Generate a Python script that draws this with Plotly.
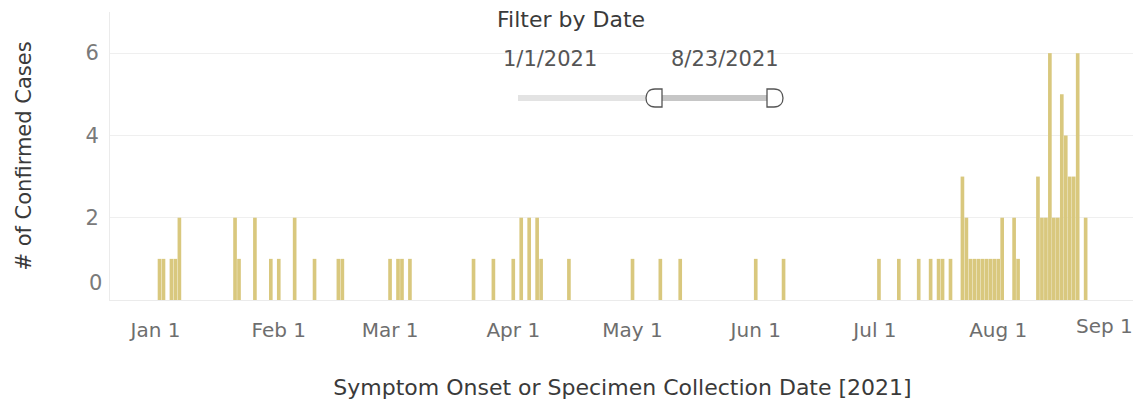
import plotly.graph_objects as go

# ---- data ----
dates = [
    "2021-01-02", "2021-01-03", "2021-01-05", "2021-01-06", "2021-01-07",
    "2021-01-21", "2021-01-22", "2021-01-26", "2021-01-30", "2021-02-01",
    "2021-02-05", "2021-02-10", "2021-02-16", "2021-02-17",
    "2021-03-01", "2021-03-03", "2021-03-04", "2021-03-06",
    "2021-03-22", "2021-03-27", "2021-04-01", "2021-04-03", "2021-04-05",
    "2021-04-07", "2021-04-08", "2021-04-15",
    "2021-05-01", "2021-05-08", "2021-05-13", "2021-06-01", "2021-06-08",
    "2021-07-02", "2021-07-07", "2021-07-12", "2021-07-15", "2021-07-17",
    "2021-07-18", "2021-07-20",
    "2021-07-23", "2021-07-24", "2021-07-25", "2021-07-26", "2021-07-27",
    "2021-07-28", "2021-07-29", "2021-07-30", "2021-07-31", "2021-08-01",
    "2021-08-02", "2021-08-05", "2021-08-06",
    "2021-08-11", "2021-08-12", "2021-08-13", "2021-08-14", "2021-08-15",
    "2021-08-16", "2021-08-17", "2021-08-18", "2021-08-19", "2021-08-20",
    "2021-08-21", "2021-08-23",
]
cases = [
    1, 1, 1, 1, 2,
    2, 1, 2, 1, 1,
    2, 1, 1, 1,
    1, 1, 1, 1,
    1, 1, 1, 2, 2,
    2, 1, 1,
    1, 1, 1, 1, 1,
    1, 1, 1, 1, 1,
    1, 1,
    3, 2, 1, 1, 1,
    1, 1, 1, 1, 1,
    2, 2, 1,
    3, 2, 2, 6, 2,
    2, 5, 4, 3, 3,
    6, 2,
]
tick_dates = ["2021-01-01", "2021-02-01", "2021-03-01", "2021-04-01", "2021-05-01",
              "2021-06-01", "2021-07-01", "2021-08-01", "2021-09-01"]
tick_labels = ["Jan 1", "Feb 1", "Mar 1", "Apr 1", "May 1", "Jun 1", "Jul 1", "Aug 1", "Sep 1"]
y_ticks = [0, 2, 4, 6]
filter_start = "1/1/2021"
filter_end = "8/23/2021"

# ---- layout geometry (page body has an 8px margin) ----
W, H = 1133, 403
ML, MR, MT, MB = 102, 6, 4, 111
PW, PH = W - ML - MR, H - MT - MB
OFF = 8
FONT = "DejaVu Sans"
TICK_COLOR = "#6E6E6E"
TITLE_COLOR = "#3A3A3A"


def px(x):  # screen x -> paper
    return (x - OFF - ML) / PW


def py(y):  # screen y -> paper
    return (H - MB - (y - OFF)) / PH


fig = go.Figure(go.Bar(
    x=dates, y=cases,
    marker=dict(color="#D9C87E", line=dict(width=0)),
    hovertemplate="%{x|%b %d}: %{y}<extra></extra>",
))

fig.update_layout(
    width=W, height=H,
    margin=dict(l=ML, r=MR, t=MT, b=MB, autoexpand=False),
    paper_bgcolor="white", plot_bgcolor="white",
    bargap=0.08,
    showlegend=False,
    font=dict(family=FONT, color=TICK_COLOR),
)

# last label is clamped inside the view in the reference -> drawn as annotation
fig.update_xaxes(
    type="date", automargin=False,
    range=["2020-12-20 13:00", "2021-09-04 10:00"],
    tickvals=tick_dates, ticktext=tick_labels[:-1] + [""],
    tickfont=dict(size=20, color=TICK_COLOR),
    showgrid=False, zeroline=False,
    showline=True, linecolor="#EBEBEB", linewidth=1,
    ticks="", ticklabelstandoff=12,
    title=dict(text="Symptom Onset or Specimen Collection Date [2021]",
               font=dict(size=22, color=TITLE_COLOR), standoff=38),
)
fig.add_annotation(x=1, xref="paper", xanchor="right",
                   y=0, yref="paper", yanchor="top", yshift=-12,
                   showarrow=False, text=tick_labels[-1],
                   font=dict(size=20, color=TICK_COLOR))

fig.update_yaxes(
    range=[0, 7], automargin=False,
    tickvals=y_ticks, ticktext=["" if v == 0 else str(v) for v in y_ticks],
    tickfont=dict(size=21, color="#7A7A7A"),
    showgrid=True, gridcolor="#EFEFEF", gridwidth=1,
    zeroline=False,
    showline=True, linecolor="#EBEBEB", linewidth=1,
    ticks="", ticklabelstandoff=6,
    title=dict(text="# of Confirmed Cases", font=dict(size=21, color=TITLE_COLOR), standoff=48),
)

# Tableau-style "0" label sits a bit above the baseline
fig.add_annotation(x=0, xref="paper", xanchor="right", xshift=-6,
                   y=0, yref="y", yanchor="middle", yshift=17, showarrow=False,
                   text="0", font=dict(size=21, color="#7A7A7A"))

# ---- date-filter slider widget (decoration over the plot) ----
fig.add_annotation(x=px(571), y=py(19), xref="paper", yref="paper",
                   xanchor="center", yanchor="middle",
                   text="Filter by Date", showarrow=False,
                   font=dict(size=22, color=TITLE_COLOR))
fig.add_annotation(x=px(550), y=py(59), xref="paper", yref="paper",
                   xanchor="center", yanchor="middle",
                   text=filter_start, showarrow=False,
                   font=dict(size=21, color="#555555"))
fig.add_annotation(x=px(725), y=py(59), xref="paper", yref="paper",
                   xanchor="center", yanchor="middle",
                   text=filter_end, showarrow=False,
                   font=dict(size=21, color="#555555"))

# tracks
fig.add_shape(type="line", xref="paper", yref="paper",
              x0=px(518), x1=px(650), y0=py(98), y1=py(98),
              line=dict(color="#E3E3E3", width=6))
fig.add_shape(type="line", xref="paper", yref="paper",
              x0=px(660), x1=px(768), y0=py(98), y1=py(98),
              line=dict(color="#C6C6C6", width=6))


def handle_path(pts):
    cmds = []
    for c in pts:
        if c[0] == "Z":
            cmds.append("Z")
        elif c[0] in "ML":
            cmds.append(f"{c[0]} {px(c[1]):.5f},{py(c[2]):.5f}")
        else:  # C
            _, x1, y1, x2, y2, x3, y3 = c
            cmds.append(f"C {px(x1):.5f},{py(y1):.5f} {px(x2):.5f},{py(y2):.5f} {px(x3):.5f},{py(y3):.5f}")
    return " ".join(cmds)


left_handle = [("M", 662, 89), ("L", 655, 89), ("C", 649, 89, 646, 93, 646, 98),
               ("C", 646, 103, 649, 107, 655, 107), ("L", 662, 107), ("Z",)]
right_handle = [("M", 767, 89), ("L", 774, 89), ("C", 780, 89, 783, 93, 783, 98),
                ("C", 783, 103, 780, 107, 774, 107), ("L", 767, 107), ("Z",)]
for hp in (left_handle, right_handle):
    fig.add_shape(type="path", xref="paper", yref="paper", path=handle_path(hp),
                  fillcolor="white", line=dict(color="#555555", width=1.3))

fig.write_html("out.html")
